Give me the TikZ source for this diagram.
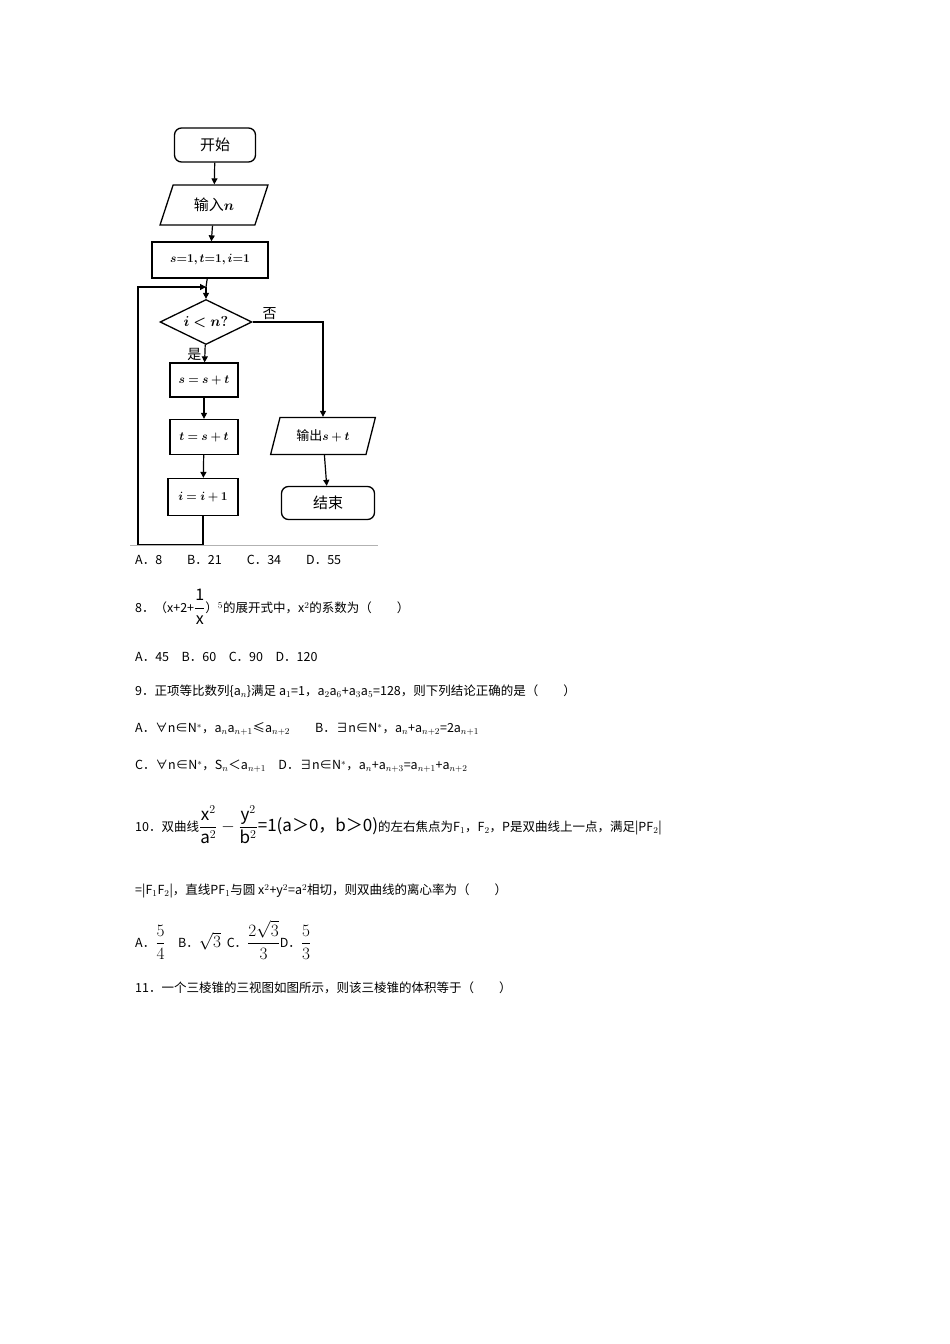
\documentclass[tikz,border=0pt]{standalone}
\usepackage{amsmath,bm}
\usepackage{fontspec}
\setmainfont{Noto Sans CJK SC}
\usetikzlibrary{shapes.geometric,arrows.meta}
\begin{document}
\begin{tikzpicture}[x=1pt,y=-1pt,
  fl/.style={draw,line width=1.3pt,inner sep=0pt},
  rbox/.style={fl,rounded corners=7pt},
  pbox/.style={fl,trapezium,trapezium left angle=65,trapezium right angle=115,trapezium stretches=true},
  arr/.style={line width=1.2pt,-{Triangle[length=6pt,width=6pt]}},
  ln/.style={line width=1.2pt},
  tx/.style={anchor=west,inner sep=0pt,font=\fontsize{12.5}{14}\selectfont}]
\useasboundingbox (0,0) rectangle (950,1344);
\fill[white] (0,0) rectangle (950,1344);
\node[rbox,minimum width=81pt,minimum height=34pt,font=\fontsize{15}{16}\selectfont] (start) at (215,145) {开始};
\node[pbox,minimum width=108pt,minimum height=40pt,font=\fontsize{15}{16}\selectfont] (in) at (214,205) {输入$\bm{n}$};
\node[fl,minimum width=116pt,minimum height=36pt,font=\fontsize{12}{16}\selectfont] (init) at (210,260) {$\bm{s{=}1,t{=}1,i{=}1}$};
\node[fl,diamond,aspect=2.1,minimum width=92pt,minimum height=45pt,font=\fontsize{14}{16}\selectfont] (cond) at (206,322) {$\bm{i<n?}$};
\node[fl,minimum width=68pt,minimum height=34pt,font=\fontsize{13}{16}\selectfont] (b1) at (204,380) {$\bm{s=s+t}$};
\node[fl,minimum width=68pt,minimum height=35pt,font=\fontsize{13}{16}\selectfont] (b2) at (204,437) {$\bm{t=s+t}$};
\node[fl,minimum width=70pt,minimum height=37pt,font=\fontsize{13}{16}\selectfont] (b3) at (203,497) {$\bm{i=i+1}$};
\node[pbox,minimum width=105pt,minimum height=37pt,font=\fontsize{13}{16}\selectfont] (out) at (323,436) {输出$\bm{s+t}$};
\node[rbox,minimum width=93pt,minimum height=33pt,font=\fontsize{15}{16}\selectfont] (end) at (328,503) {结束};
\coordinate (j) at (206,287);
\draw[arr] (start) -- (in);
\draw[arr] (in) -- (init);
\draw[ln] (init) -- (j);
\draw[arr] (j) -- (cond);
\draw[arr] (cond) -- node[pos=0.55,left,inner sep=3pt,font=\fontsize{14}{16}\selectfont]{是} (b1);
\draw[arr] (b1) -- (b2);
\draw[arr] (b2) -- (b3);
\draw[arr] (cond.east) -| node[pos=0.12,above,inner sep=2pt,font=\fontsize{14}{16}\selectfont]{否} (out.north);
\draw[arr] (out) -- (end);
\draw[arr] (b3.south) -- (203,545) -| (138,287) -- (j);
\draw[gray!60,line width=0.8pt] (130,545) -- (378,545);
\node[tx] (t1) at (135,560) {A．8\qquad B．21\qquad C．34\qquad D．55};
\node[tx] (t2) at (135,607) {8．（x+2+{\fontsize{16}{18}\selectfont$\dfrac{\mathrm{1}}{\mathrm{x}}$}）$^{5}$的展开式中，x$^{2}$的系数为（\qquad）};
\node[tx] (t3) at (135,657) {A．45\quad B．60\quad C．90\quad D．120};
\node[tx] (t4) at (135,691) {9．正项等比数列\{a$_n$\}满足 a$_1$=1，a$_2$a$_6$+a$_3$a$_5$=128，则下列结论正确的是（\qquad）};
\node[tx] (t5) at (135,729) {A．∀n∈N$^*$，a$_n$a$_{n+1}$≤a$_{n+2}$\qquad B．∃n∈N$^*$，a$_n$+a$_{n+2}$=2a$_{n+1}$};
\node[tx] (t6) at (135,766) {C．∀n∈N$^*$，S$_n$＜a$_{n+1}$\quad D．∃n∈N$^*$，a$_n$+a$_{n+3}$=a$_{n+1}$+a$_{n+2}$};
\node[tx] (t7) at (135,825) {10．双曲线{\fontsize{17}{20}\selectfont$\dfrac{\mathrm{x}^2}{\mathrm{a}^2}-\dfrac{\mathrm{y}^2}{\mathrm{b}^2}$=1(a＞0，b＞0)}的左右焦点为F$_1$，F$_2$，P是双曲线上一点，满足|PF$_2$|};
\node[tx] (t8) at (135,891) {=|F$_1$F$_2$|，直线PF$_1$与圆 x$^2$+y$^2$=a$^2$相切，则双曲线的离心率为（\qquad）};
\node[tx] (t9) at (135,940) {A．{\fontsize{17}{20}\selectfont$\dfrac{5}{4}$}\quad B．{\fontsize{17}{20}\selectfont$\sqrt{3}$}\ \ C．{\fontsize{17}{20}\selectfont$\dfrac{2\sqrt{3}}{3}$}D．{\fontsize{17}{20}\selectfont$\dfrac{5}{3}$}};
\node[tx] (t10) at (135,988) {11．一个三棱锥的三视图如图所示，则该三棱锥的体积等于（\qquad）};
\end{tikzpicture}
\end{document}
